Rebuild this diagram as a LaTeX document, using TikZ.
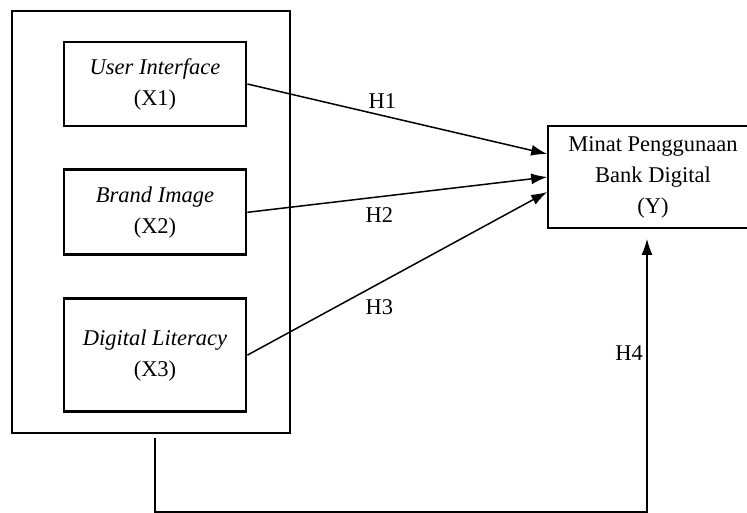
\documentclass[tikz,border=0pt]{standalone}
\usepackage{fontspec}
\setmainfont{Liberation Serif}
\usetikzlibrary{arrows.meta,positioning}

\begin{document}
\begin{tikzpicture}[x=1pt, y=-1pt, node distance=41pt, font=\fontsize{22.5}{31}\selectfont, line/.style={-{Latex[length=16pt,width=11pt]}, line width=1.5pt}, varbox/.style={rectangle,draw,line width=2.8pt,minimum width=182pt,align=center}, ybox/.style={rectangle,draw,line width=1.6pt,minimum width=210pt,minimum height=102pt,align=center}]
\clip (0,0) rectangle (747,512);
\node[draw,line width=1.6pt,minimum width=278pt,minimum height=422pt] (grp) at (151,222) {};
\node[varbox,minimum height=84pt] (x1) at (155,84) {\textit{User Interface}\\(X1)};
\node[varbox,minimum height=85pt,below=41pt of x1] (x2) {\textit{Brand Image}\\(X2)};
\node[varbox,minimum height=113pt,below=41pt of x2] (x3) {\textit{Digital Literacy}\\(X3)};
\node[ybox] (y) at (653,177) {Minat Penggunaan\\Bank Digital\\(Y)};
\draw[line] (x1.east) -- node[pos=0.45,above=3pt] {H1} ([yshift=23pt]y.west);
\draw[line] (x2.east) -- node[pos=0.44,below=7pt] {H2} (y.west);
\draw[line] (x3.east) -- node[pos=0.44,below=12pt] {H3} ([yshift=-15pt]y.west);
\draw[line] ([xshift=4pt,yshift=-4pt]grp.south) -- ++(0,74) -| node[pos=0.79,left] {H4} ([xshift=-6pt,yshift=-10pt]y.south);
\end{tikzpicture}
\end{document}
